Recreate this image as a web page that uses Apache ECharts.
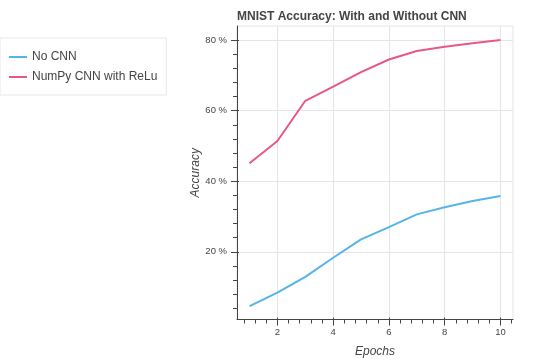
<!DOCTYPE html>
<html>
<head>
<meta charset="utf-8">
<script src="https://cdn.jsdelivr.net/npm/echarts@6/dist/echarts.min.js"></script>
<style>
html,body{margin:0;padding:0;background:#fff;}
#c{width:539px;height:359px;}
</style>
</head>
<body>
<div id="c"></div>
<script>
const epochs = [1, 2, 3, 4, 5, 6, 7, 8, 9, 10];
const noCnn = [4.6, 8.4, 12.9, 18.3, 23.5, 27.0, 30.6, 32.6, 34.4, 35.8];
const numpyCnn = [45.1, 51.4, 62.8, 66.8, 70.9, 74.5, 76.9, 78.1, 79.1, 80.0];
const xMajorTicks = [2, 4, 6, 8, 10];
const xMinorTicks = [0.8, 1.2, 1.6, 2.4, 2.8, 3.2, 3.6, 4.4, 4.8, 5.2, 5.6, 6.4, 6.8, 7.2, 7.6, 8.4, 8.8, 9.2, 9.6, 10.4];
const yMajorTicks = [20, 40, 60, 80];
const yMinorTicks = [4, 8, 12, 16, 24, 28, 32, 36, 44, 48, 52, 56, 64, 68, 72, 76, 84];
const seriesNames = ['No CNN', 'NumPy CNN with ReLu'];

const X_MIN = 0.55, X_MAX = 10.45, Y_MIN = 0.8, Y_MAX = 84.0;
const axisColor = '#444';
const textColor = '#444';
const font = '"Liberation Sans", Arial, sans-serif';

function baseX(extra) {
  return Object.assign({
    type: 'value', gridIndex: 0, min: X_MIN, max: X_MAX, position: 'bottom',
    axisLine: { show: false }, axisLabel: { show: false },
    splitLine: { show: false }, axisTick: { show: false }
  }, extra);
}
function baseY(extra) {
  return Object.assign({
    type: 'value', gridIndex: 0, min: Y_MIN, max: Y_MAX, position: 'left',
    axisLine: { show: false }, axisLabel: { show: false },
    splitLine: { show: false }, axisTick: { show: false }
  }, extra);
}

const chart = echarts.init(document.getElementById('c'), null, { renderer: 'canvas' });
chart.setOption({
  animation: false,
  backgroundColor: '#fff',
  title: {
    text: 'MNIST Accuracy: With and Without CNN',
    left: 232, top: 6,
    textStyle: { fontFamily: font, fontSize: 12, fontWeight: 'bold', color: textColor }
  },
  legend: {
    orient: 'vertical',
    left: 0, top: 38,
    padding: [12, 9, 11, 9],
    itemGap: 6,
    itemWidth: 18, itemHeight: 2,
    icon: 'rect',
    backgroundColor: '#fff',
    borderColor: '#e8e8e8', borderWidth: 1,
    textStyle: { fontFamily: font, fontSize: 12, color: textColor, lineHeight: 14, height: 14 },
    data: seriesNames
  },
  grid: {
    left: 237, top: 26, width: 276, height: 293.5,
    containLabel: false, outerBoundsMode: 'none',
    show: true, borderColor: '#e5e5e5', borderWidth: 1, backgroundColor: '#fff'
  },
  xAxis: [
    baseX({
      name: 'Epochs', nameLocation: 'middle', nameGap: 26, nameMoveOverlap: false,
      nameTextStyle: { fontFamily: font, fontSize: 12, fontStyle: 'italic', color: textColor },
      axisLine: { show: true, lineStyle: { color: axisColor, width: 1 } },
      axisTick: { show: true, length: 6, customValues: xMajorTicks, lineStyle: { color: axisColor } },
      axisLabel: { show: true, customValues: xMajorTicks, margin: 8, fontFamily: font, fontSize: 9.5, color: textColor },
      splitLine: { show: true, lineStyle: { color: '#e5e5e5', width: 1 } }
    }),
    baseX({ axisTick: { show: true, length: 4, customValues: xMinorTicks, lineStyle: { color: axisColor } } }),
    baseX({ axisTick: { show: true, inside: true, length: 2, customValues: xMajorTicks, lineStyle: { color: axisColor } } })
  ],
  yAxis: [
    baseY({
      name: 'Accuracy', nameLocation: 'middle', nameGap: 35, nameMoveOverlap: false,
      nameTextStyle: { fontFamily: font, fontSize: 12, fontStyle: 'italic', color: textColor },
      axisLine: { show: true, lineStyle: { color: axisColor, width: 1 } },
      axisTick: { show: true, length: 6, customValues: yMajorTicks, lineStyle: { color: axisColor } },
      axisLabel: { show: true, customValues: yMajorTicks, margin: 10, fontFamily: font, fontSize: 9.5, color: textColor,
                   formatter: v => v + ' %' },
      splitLine: { show: true, lineStyle: { color: '#e5e5e5', width: 1 } }
    }),
    baseY({ axisTick: { show: true, length: 4, customValues: yMinorTicks.filter(v => v > Y_MIN && v < Y_MAX), lineStyle: { color: axisColor } } }),
    baseY({ axisTick: { show: true, inside: true, length: 2, customValues: yMajorTicks, lineStyle: { color: axisColor } } })
  ],
  series: [
    {
      name: seriesNames[0], type: 'line', xAxisIndex: 0, yAxisIndex: 0,
      data: epochs.map((e, i) => [e, noCnn[i]]),
      showSymbol: false, symbol: 'none',
      lineStyle: { color: '#56b4e9', width: 2 }, itemStyle: { color: '#56b4e9' }
    },
    {
      name: seriesNames[1], type: 'line', xAxisIndex: 0, yAxisIndex: 0,
      data: epochs.map((e, i) => [e, numpyCnn[i]]),
      showSymbol: false, symbol: 'none',
      lineStyle: { color: '#e8578a', width: 2 }, itemStyle: { color: '#e8578a' }
    }
  ]
});
</script>
</body>
</html>
